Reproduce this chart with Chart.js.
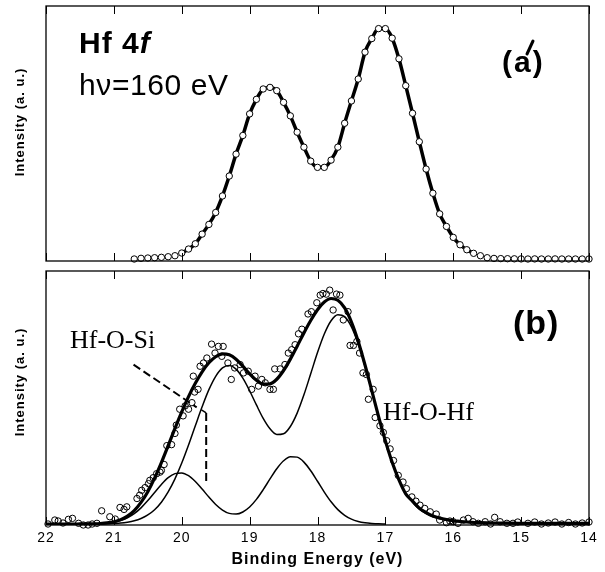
<!DOCTYPE html>
<html><head><meta charset="utf-8">
<script src="https://cdn.jsdelivr.net/npm/chart.js@4.4.0/dist/chart.umd.min.js"></script>
<style>
html,body{margin:0;padding:0;background:#fff;}
#wrap{position:relative;width:605px;height:572px;overflow:hidden;}
#topBox{position:absolute;left:0;top:0;width:605px;height:266px;}
#botBox{position:absolute;left:0;top:266px;width:605px;height:306px;}
</style></head><body>
<div id="wrap">
<div id="topBox"><canvas id="topChart" width="605" height="266"></canvas></div>
<div id="botBox"><canvas id="botChart" width="605" height="306"></canvas></div>
</div>
<script>
// ---------- data ----------
const xTickValues = [22, 21, 20, 19, 18, 17, 16, 15, 14];

// panel (a): measured points (binding energy, intensity)
const topEnergy = [20.7,20.6,20.5,20.4,20.3,20.2,20.1,20.0,19.9,19.8,19.7,19.6,19.5,19.4,19.3,19.2,19.1,19.0,18.9,18.8,
  18.7,18.6,18.5,18.4,18.3,18.2,18.1,18.0,17.9,17.8,17.7,17.6,17.5,17.4,17.3,17.2,17.1,17.0,16.9,16.8,
  16.7,16.6,16.5,16.4,16.3,16.2,16.1,16.0,15.9,15.8,15.7,15.6,15.5,15.4,15.3,15.2,15.1,15.0,14.9,14.8,
  14.7,14.6,14.5,14.4,14.3,14.2,14.1,14.0];
const topIntensity = [2.0,2.7,3.0,3.3,3.7,4.3,5.3,8.0,12.0,17.3,27.0,36.7,48.7,65.3,85.3,107.3,126.0,147.7,162.3,172.7,
  174.3,171.0,159.3,145.7,129.3,114.3,100.3,94.0,94.0,101.3,114.3,138.3,160.7,182.7,209.7,223.3,233.3,233.3,223.7,203.0,
  176.0,148.3,119.7,92.3,68.0,47.3,34.7,23.7,16.3,11.3,7.7,5.3,3.3,2.6,2.4,2.3,2.2,2.1,2.0,2.1,
  2.0,2.0,2.1,2.0,2.0,2.0,2.0,2.0];
const topFitFrom = 20.0, topFitTo = 15.7;

// panel (b): measured points
const botEnergy = [21.97,21.87,21.82,21.75,21.67,21.61,21.52,21.45,21.38,21.32,21.25,21.18,21.06,20.98,20.91,20.85,20.81,
  20.66,20.62,20.59,20.54,20.49,20.47,20.42,20.37,20.32,20.30,20.26,20.22,20.15,20.10,20.08,20.03,19.98,19.95,19.90,
  19.85,19.83,19.81,19.76,19.73,19.68,19.63,19.56,19.51,19.46,19.41,19.39,19.32,19.27,19.22,19.14,19.09,19.02,18.97,
  18.92,18.87,18.82,18.77,18.70,18.65,18.63,18.55,18.48,18.43,18.38,18.33,18.28,18.23,18.14,18.09,18.01,17.96,17.92,
  17.87,17.82,17.77,17.72,17.67,17.62,17.55,17.52,17.47,17.42,17.38,17.33,17.28,17.25,17.18,17.15,17.08,17.03,16.98,
  16.93,16.88,16.81,16.74,16.69,16.61,16.55,16.49,16.42,16.34,16.25,16.20,16.10,16.05,16.00,15.93,15.85,15.78,15.71,
  15.63,15.53,15.45,15.39,15.31,15.21,15.12,15.05,14.90,14.80,14.70,14.60,14.50,14.40,14.30,14.20,14.10,14.00];
const botIntensity = [1,5,4,2,5.7,6.7,1.7,0,0,1,1.7,14.3,8.3,6,17.7,15.7,18.3,
  26.7,30,35,37.7,41.7,45,47.7,51.7,53.3,55,61,80,81,92.3,100.7,116.7,110,120,116.7,
  123.3,150,134,136.7,160,163.3,168.3,182.3,173.3,180,170,180,163.3,146.7,158.3,161.7,153.3,155,136.7,
  150,140,146.7,143.3,136.7,136.7,157.3,157.3,161.7,173.3,176.7,181.7,192.7,197.3,212.7,215,224,231.7,233.3,
  232.7,236.7,216.7,232.7,231.7,206.7,215,181,181,185,173.3,153.3,151.7,126.7,136.7,108.3,100,93.3,85,
  76.7,65,50,43.3,36.7,28.3,24,20,16.7,13.3,11,5,2.3,4,3.3,1.7,5,6.7,3.3,
  1.7,3.3,1,7.7,3.3,1.7,1.7,3,1.7,3,1,2,3,1,2.5,1,2,3];

// panel (b): fitted curves on a common energy grid
const fitEnergy = [22.0,21.8,21.6,21.5,21.4,21.3,21.2,21.1,21.0,20.9,20.8,20.7,20.6,20.5,20.4,20.3,20.2,20.1,20.0,
  19.9,19.8,19.7,19.6,19.5,19.4,19.3,19.2,19.1,19.0,18.9,18.8,18.7,18.6,18.5,18.4,18.3,18.2,18.1,18.0,
  17.9,17.8,17.7,17.6,17.5,17.4,17.3,17.2,17.1,17.0,16.9,16.8,16.7,16.6,16.5,16.4,16.3,16.2,16.1,16.0,
  15.9,15.8,15.6,15.4,15.2,15.0,14.5,14.0];
const fitTotal = [1.0,1.0,1.0,1.05,1.1,1.2,1.5,2.1,3.3,5.4,9.0,14.6,22.8,33.6,47.2,62.9,80.0,97.3,113.9,
  129.4,142.8,154.3,163.5,169.6,172.5,171.5,167.1,160.1,152.4,145.8,142.0,142.3,146.9,155.7,167.2,180.2,193.6,206.1,216.9,
  224.7,228.3,226.5,218.8,204.6,185.0,161.3,135.4,109.2,84.8,63.2,45.4,31.4,24.0,17.0,12.5,9.0,7.0,5.5,4.3,
  3.6,3.0,2.4,2.0,1.8,1.7,1.6,1.6];
const fitHfOHf = [null,null,1.0,1.0,1.0,1.05,1.1,1.2,1.5,1.9,2.8,4.2,6.5,10.1,15.4,23.0,33.3,46.5,62.4,
  80.6,100.0,119.1,136.4,149.9,158.4,160.8,157.1,148.0,135.3,121.0,107.4,96.9,91.2,92.0,99.3,112.8,131.2,152.4,173.8,
  192.5,205.9,212.0,210.0,199.7,182.4,160.0,134.8,109.0,84.7,63.2,45.4,31.4,23.0,16.0,11.5,8.3,6.3,4.8,3.8,
  3.2,2.7,null,null,null,null,null,null];
const fitHfOSi = [null,null,1.0,1.0,1.1,1.2,1.4,1.9,2.8,4.5,7.3,11.5,17.3,24.6,32.8,40.9,47.7,51.8,52.5,
  49.7,43.8,36.2,28.1,20.7,15.1,11.7,11.0,13.1,18.1,25.8,35.6,46.4,56.7,64.7,68.9,68.4,63.4,54.7,44.1,
  33.2,23.4,15.5,9.8,5.9,3.6,2.3,1.6,1.2,1.1,null,null,null,null,null,null,null,null,null,null,
  null,null,null,null,null,null,null,null];

// ---------- helpers ----------
const SANS = '"Liberation Sans", Arial, Helvetica, sans-serif';
const SERIF = '"Liberation Serif", "Times New Roman", serif';
function pts(xs, ys) {
  const out = [];
  for (let i = 0; i < xs.length; i++) if (ys[i] !== null && ys[i] !== undefined) out.push({x: xs[i], y: ys[i]});
  return out;
}
function txt(ctx, s, x, y, font, o = {}) {
  ctx.save();
  ctx.font = font; ctx.fillStyle = '#000';
  ctx.textAlign = o.align || 'left';
  ctx.textBaseline = o.baseline || 'alphabetic';
  if ('letterSpacing' in ctx) ctx.letterSpacing = (o.ls || 0) + 'px';
  if (o.rotate) { ctx.translate(x, y); ctx.rotate(o.rotate); ctx.fillText(s, 0, 0); }
  else ctx.fillText(s, x, y);
  const w = ctx.measureText(s).width;
  ctx.restore();
  return w;
}
const frameTicks = {
  id: 'frameTicks',
  beforeDraw(chart) { if ('letterSpacing' in chart.ctx) chart.ctx.letterSpacing = '1px'; },
  afterDatasetsDraw(chart) {
    const {ctx, chartArea: a, scales: {x}} = chart;
    ctx.save();
    ctx.strokeStyle = '#000';
    ctx.lineWidth = 1;
    for (const t of xTickValues) {
      const px = Math.round(x.getPixelForValue(t)) + 0.5;
      ctx.beginPath();
      ctx.moveTo(px, a.top); ctx.lineTo(px, a.top + 8);
      ctx.moveTo(px, a.bottom); ctx.lineTo(px, a.bottom - 8);
      ctx.stroke();
    }
    ctx.lineWidth = 1.3;
    ctx.strokeRect(a.left, a.top, a.right - a.left, a.bottom - a.top);
    ctx.restore();
  }
};
const common = {
  type: 'line',
  options: {
    animation: false, responsive: false, devicePixelRatio: 1,
    plugins: {legend: {display: false}, tooltip: {enabled: false}},
    elements: {line: {cubicInterpolationMode: 'monotone'}}
  }
};

// ---------- panel (a) ----------
const topFit = pts(topEnergy, topIntensity).filter(p => p.x <= topFitFrom && p.x >= topFitTo);
const topLabels = {
  id: 'topLabels',
  afterDraw(chart) {
    const ctx = chart.ctx;
    const w = txt(ctx, 'Hf 4', 79, 53, 'bold 30px ' + SANS, {ls: 1});
    txt(ctx, 'f', 79 + w, 53, 'italic bold 30px ' + SANS);
    txt(ctx, 'h\u03BD=160 eV', 79, 95, '30px ' + SANS, {ls: 0.6});
    txt(ctx, '(a)', 502, 72, 'bold 30px ' + SANS, {ls: 2});
    ctx.save(); ctx.strokeStyle = '#000'; ctx.lineWidth = 3; ctx.lineCap = 'round';
    ctx.beginPath(); ctx.moveTo(527, 54); ctx.lineTo(533, 41); ctx.stroke(); ctx.restore();
    txt(ctx, 'Intensity (a. u.)', 20, 122, 'bold 13px ' + SANS, {align: 'center', baseline: 'middle', rotate: -Math.PI / 2, ls: 1});
  }
};
new Chart(document.getElementById('topChart'), {
  type: 'line',
  data: {datasets: [
    {data: pts(topEnergy, topIntensity), showLine: false, pointRadius: 3.2, pointBorderWidth: 1,
     pointBackgroundColor: '#fff', pointBorderColor: '#000', clip: false},
    {data: topFit, borderColor: '#000', borderWidth: 3.5, pointRadius: 0, fill: false}
  ]},
  options: Object.assign({}, common.options, {
    layout: {padding: {left: 46, right: 16, top: 6, bottom: 4}},
    scales: {
      x: {type: 'linear', min: 14, max: 22, reverse: true, display: false},
      y: {min: 0, max: 256, display: false}
    }
  }),
  plugins: [frameTicks, topLabels]
});

// ---------- panel (b) ----------
const botLabels = {
  id: 'botLabels',
  afterDraw(chart) {
    const ctx = chart.ctx, x = chart.scales.x, y = chart.scales.y;
    txt(ctx, '(b)', 513, 68, 'bold 34px ' + SANS, {ls: 1});
    txt(ctx, 'Hf-O-Si', 70, 82, '26px ' + SERIF);
    txt(ctx, 'Hf-O-Hf', 383, 154, '26px ' + SERIF);
    txt(ctx, 'Intensity (a. u.)', 20, 116, 'bold 13px ' + SANS, {align: 'center', baseline: 'middle', rotate: -Math.PI / 2, ls: 1});
    // Hf-O-Si pointer (annotation, placed in data coordinates)
    ctx.save();
    ctx.strokeStyle = '#000'; ctx.lineWidth = 2; ctx.setLineDash([8, 4]);
    ctx.beginPath();
    ctx.moveTo(x.getPixelForValue(20.71), y.getPixelForValue(161.7));
    ctx.lineTo(x.getPixelForValue(19.78), y.getPixelForValue(118.5));
    ctx.stroke();
    ctx.beginPath();
    ctx.moveTo(x.getPixelForValue(19.64), y.getPixelForValue(113));
    ctx.lineTo(x.getPixelForValue(19.64), y.getPixelForValue(43));
    ctx.stroke();
    ctx.setLineDash([]); ctx.lineWidth = 1.5;
    ctx.beginPath();
    ctx.moveTo(x.getPixelForValue(19.71), y.getPixelForValue(116));
    ctx.lineTo(x.getPixelForValue(19.64), y.getPixelForValue(113));
    ctx.stroke();
    ctx.restore();
  }
};
new Chart(document.getElementById('botChart'), {
  type: 'line',
  data: {datasets: [
    {data: pts(fitEnergy, fitTotal), borderColor: '#000', borderWidth: 3.2, pointRadius: 0, fill: false},
    {data: pts(fitEnergy, fitHfOHf), borderColor: '#000', borderWidth: 1.5, pointRadius: 0, fill: false},
    {data: pts(fitEnergy, fitHfOSi), borderColor: '#000', borderWidth: 1.5, pointRadius: 0, fill: false},
    {data: pts(botEnergy, botIntensity), showLine: false, pointRadius: 3.2, pointBorderWidth: 1,
     pointBackgroundColor: 'rgba(255,255,255,0)', pointBorderColor: '#000', clip: false}
  ]},
  options: Object.assign({}, common.options, {
    layout: {padding: {left: 46, right: 16, top: 3, bottom: 0}},
    scales: {
      x: {type: 'linear', min: 14, max: 22, reverse: true,
          grid: {display: false, drawTicks: false}, border: {display: false},
          ticks: {stepSize: 1, autoSkip: false, maxRotation: 0, padding: 5, color: '#000',
                  font: {size: 14, family: SANS}},
          title: {display: true, text: 'Binding Energy (eV)', color: '#000',
                  font: {size: 16, weight: 'bold', family: SANS}, padding: {top: 0, bottom: 3}},
          afterFit(s) { s.height = 47; }},
      y: {min: 0, max: 256, display: false}
    }
  }),
  plugins: [frameTicks, botLabels]
});
</script>
</body></html>
